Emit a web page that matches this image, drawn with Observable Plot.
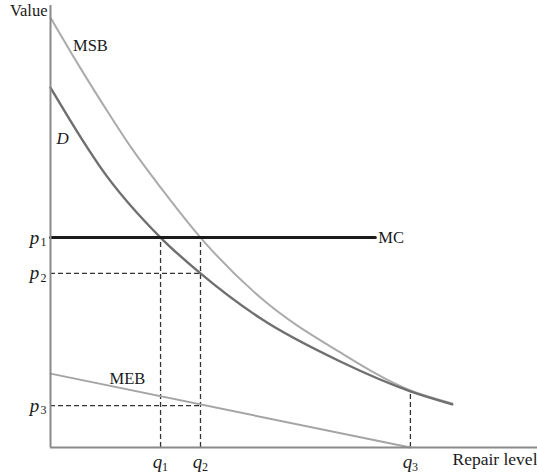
<!DOCTYPE html>
<html>
<head>
<meta charset="utf-8">
<script src="https://cdn.jsdelivr.net/npm/d3@7"></script>
<script src="https://cdn.jsdelivr.net/npm/@observablehq/plot@0.6"></script>
<style>
  html, body { margin: 0; padding: 0; background: #fff; overflow: hidden; }
  #chart svg { display: block; }
</style>
</head>
<body>
<div id="chart"></div>
<script>
// Repair level (x) and value (y), in chart units 0–100
const dX   = [0, 6.6, 10.3, 22.6, 30.8, 43.1, 59.5, 73.9, 82.5];
const dY   = [83.3, 71.1, 64.8, 48.6, 40.3, 29.9, 19.9, 13.0, 10.0];
const msbX = [0, 6.2, 11.3, 16.4, 22.6, 30.8, 43.1, 59.5, 73.9, 82.5];
const msbY = [99.5, 87.7, 78.5, 69.7, 60.2, 48.6, 34.7, 22.0, 13.2, 10.2];
const mebX = [0, 73.9];
const mebY = [17.1, 0];
const mcX  = [0, 66.7];
const mcY  = [48.6, 48.6];

const qValues = [22.6, 30.8, 73.9];
const qTops   = [48.6, 48.6, 13.0];
const qSubs   = ["1", "2", "3"];
const pValues = [48.6, 40.3, 9.7];
const pEnds   = [0, 30.8, 30.8];
const pSubs   = ["1", "2", "3"];

const uprightLabels = [
  {name: "MSB", x: 8.2, y: 93.1},
  {name: "MEB", x: 15.8, y: 16.0}
];
const italicLabels = [
  {name: "D", x: 2.5, y: 71.5}
];

const pts = (xs, ys) => xs.map((x, i) => ({x, y: ys[i]}));
const qRows = qValues.map((q, i) => ({q, top: qTops[i], sub: qSubs[i]}));
const pRows = pValues.map((p, i) => ({p, end: pEnds[i], sub: pSubs[i]}));

const dash = {stroke: "#333", strokeWidth: 1.3, strokeDasharray: "5,3"};
const font = "Liberation Serif";

const chart = Plot.plot({
  width: 537,
  height: 476,
  marginLeft: 50,
  marginRight: 0,
  marginTop: 15,
  marginBottom: 29,
  x: {domain: [0, 100], axis: null},
  y: {domain: [0, 100], axis: null},
  style: {fontFamily: font, background: "#fff", color: "#222"},
  marks: [
    // dashed guides
    Plot.ruleX(qRows.filter(d => d.top > 0), {x: "q", y1: 0, y2: "top", ...dash}),
    Plot.ruleY(pRows.filter(d => d.end > 0), {y: "p", x1: 0, x2: "end", ...dash}),
    // curves
    Plot.line(pts(mebX, mebY), {x: "x", y: "y", stroke: "#a4a4a4", strokeWidth: 2}),
    Plot.line(pts(msbX, msbY), {x: "x", y: "y", curve: "monotone-x", stroke: "#ababab", strokeWidth: 2}),
    Plot.line(pts(dX, dY), {x: "x", y: "y", curve: "monotone-x", stroke: "#6f6f6f", strokeWidth: 2.4}),
    Plot.line(pts(mcX, mcY), {x: "x", y: "y", stroke: "#1a1a1a", strokeWidth: 3}),
    // axes
    Plot.ruleX([0], {y1: 0, y2: 102.3, stroke: "#8a8a8a", strokeWidth: 2}),
    Plot.ruleY([0], {x1: 0, x2: 100, stroke: "#8a8a8a", strokeWidth: 2}),
    // axis titles
    Plot.text(["Value"], {x: 0, y: 101.2, dx: -3, textAnchor: "end", fontSize: 16.5, fill: "#1a1a1a"}),
    Plot.text(["Repair level"], {x: 100, y: 0, dy: 12, textAnchor: "end", fontSize: 17.5, fill: "#1a1a1a"}),
    // q tick labels
    Plot.text(qRows, {x: "q", y: 0, text: () => "q", dx: -3, dy: 14, fontSize: 19, fontStyle: "italic", fill: "#1a1a1a"}),
    Plot.text(qRows, {x: "q", y: 0, text: "sub", dx: 4.5, dy: 20, fontSize: 12, fill: "#1a1a1a"}),
    // p tick labels
    Plot.text(pRows, {x: 0, y: "p", text: () => "p", dx: -16, dy: 0, fontSize: 19, fontStyle: "italic", fill: "#1a1a1a"}),
    Plot.text(pRows, {x: 0, y: "p", text: "sub", dx: -7, dy: 5, fontSize: 12, fill: "#1a1a1a"}),
    // curve labels
    Plot.text(uprightLabels, {x: "x", y: "y", text: "name", fontSize: 16.5, fill: "#1a1a1a"}),
    Plot.text(italicLabels, {x: "x", y: "y", text: "name", fontSize: 17, fontStyle: "italic", fill: "#1a1a1a"}),
    Plot.text(["MC"], {x: mcX[1], y: mcY[1], dx: 3, textAnchor: "start", fontSize: 16.5, fill: "#1a1a1a"})
  ]
});
document.getElementById("chart").append(chart);
</script>
</body>
</html>
